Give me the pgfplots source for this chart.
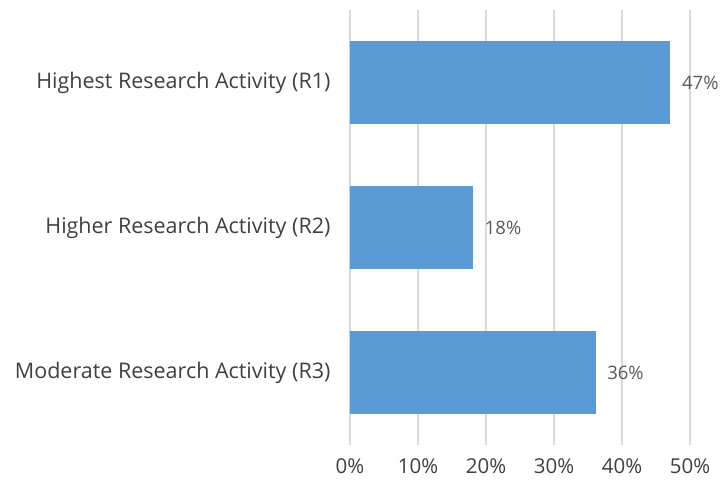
\documentclass[border=0pt]{standalone}
\usepackage{pgfplots}
\pgfplotsset{compat=1.18}
\usepackage{fontspec}
\setmainfont{Open Sans}
\definecolor{barblue}{HTML}{5B9BD5}
\definecolor{gridgray}{HTML}{D9D9D9}
\definecolor{txtgray}{HTML}{404040}
\definecolor{lblgray}{HTML}{595959}
\begin{document}
\begin{tikzpicture}[x=1bp,y=1bp]
\useasboundingbox (-350bp,-39bp) rectangle (370bp,445bp);
\begin{axis}[
  at={(0,0)}, anchor=south west,
  scale only axis,
  width=340bp, height=435bp,
  xbar, bar width=82bp,
  xmin=0, xmax=50,
  ymin=-0.5, ymax=2.5,
  y dir=reverse,
  ytick={0,1,2},
  yticklabels={Highest Research Activity (R1),Higher Research Activity (R2),Moderate Research Activity (R3)},
  xtick={0,10,20,30,40,50},
  xticklabel={\pgfmathprintnumber{\tick}\%},
  /pgf/number format/assume math mode=true,
  axis line style={draw=none},
  major tick length=0pt,
  xmajorgrids, grid style={gridgray, line width=1.3pt},
  ymajorgrids=false,
  tick label style={font=\fontsize{20.5bp}{24bp}\selectfont, text=txtgray},
  xticklabel style={yshift=-13bp, inner sep=0pt},
  yticklabel style={xshift=-16bp, font=\fontsize{21.5bp}{25bp}\selectfont},
  nodes near coords={\pgfmathprintnumber{\pgfplotspointmeta}\%},
  nodes near coords style={font=\fontsize{18.5bp}{22bp}\selectfont, text=lblgray, anchor=west, xshift=9bp},
  point meta=x,
]
\addplot[fill=barblue, draw=barblue] coordinates {(47,0) (18,1) (36,2)};
\end{axis}
\end{tikzpicture}
\end{document}
